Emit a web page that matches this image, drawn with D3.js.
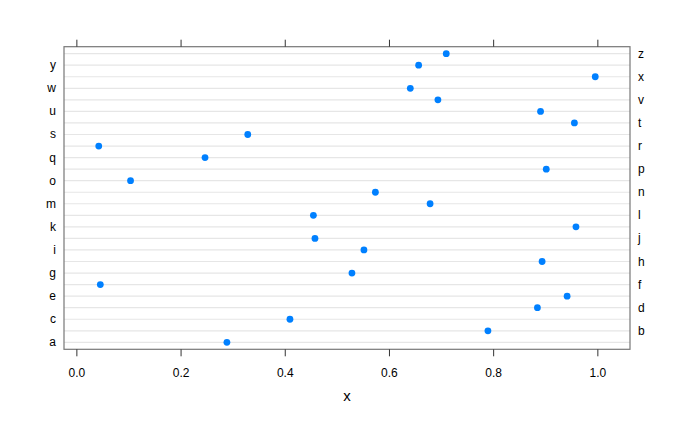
<!DOCTYPE html>
<meta charset="utf-8">
<style>
body { margin: 0; background: #fff; }
text { font-family: "Liberation Sans", Arial, sans-serif; fill: #000; }
.grid { stroke: #e6e6e6; stroke-width: 1.2px; }
.frame { fill: none; stroke: #777; stroke-width: 1.2px; }
.tick { stroke: #333; stroke-width: 1px; }
</style>
<svg width="694" height="425"></svg>
<script src="https://cdn.jsdelivr.net/npm/d3@7"></script>
<script>

// categories a..z and their x values
var categories = ["a","b","c","d","e","f","g","h","i","j","k","l","m",
                  "n","o","p","q","r","s","t","u","v","w","x","y","z"];
var values = [0.288, 0.789, 0.409, 0.884, 0.941, 0.045, 0.528, 0.893, 0.551, 0.457, 0.958, 0.454, 0.678,
              0.573, 0.103, 0.901, 0.246, 0.042, 0.328, 0.955, 0.890, 0.693, 0.640, 0.995, 0.656, 0.709];
var xTicks = [0, 0.2, 0.4, 0.6, 0.8, 1.0];

var svg = d3.select("svg"),
    pLeft = 64, pRight = 630, pTop = 46.7, pBottom = 349.3;

// lattice style padding of 7% on the range
var ext = d3.extent(values), pad = (ext[1] - ext[0]) * 0.07;
var x = d3.scaleLinear()
    .domain([ext[0] - pad, ext[1] + pad])
    .range([pLeft, pRight]);

var y = d3.scaleLinear()
    .domain([0.4, categories.length + 0.6])
    .range([pBottom, pTop]);

// grid lines
svg.selectAll("line.grid")
  .data(categories)
  .enter().append("line")
    .attr("class", "grid")
    .attr("x1", pLeft).attr("x2", pRight)
    .attr("y1", function(d, i) { return y(i + 1); })
    .attr("y2", function(d, i) { return y(i + 1); });

// points
svg.selectAll("circle")
  .data(values)
  .enter().append("circle")
    .attr("cx", function(d) { return x(d); })
    .attr("cy", function(d, i) { return y(i + 1); })
    .attr("r", 3.4)
    .style("fill", "#0080ff");

svg.append("rect")
    .attr("class", "frame")
    .attr("x", pLeft).attr("y", pTop)
    .attr("width", pRight - pLeft).attr("height", pBottom - pTop);

// x ticks top and bottom
xTicks.forEach(function(t) {
  svg.append("line").attr("class", "tick")
      .attr("x1", x(t)).attr("x2", x(t))
      .attr("y1", pBottom).attr("y2", pBottom + 7);
  svg.append("line").attr("class", "tick")
      .attr("x1", x(t)).attr("x2", x(t))
      .attr("y1", pTop).attr("y2", pTop - 7);
  svg.append("text")
      .attr("x", x(t)).attr("y", pBottom + 28)
      .attr("text-anchor", "middle")
      .style("font-size", "12px")
      .text(d3.format(".1f")(t));
});

// y labels, alternating left / right
svg.selectAll("text.ylab")
  .data(categories)
  .enter().append("text")
    .attr("class", "ylab")
    .attr("x", function(d, i) { return i % 2 == 0 ? pLeft - 8 : pRight + 8; })
    .attr("y", function(d, i) { return y(i + 1) + 4; })
    .attr("text-anchor", function(d, i) { return i % 2 == 0 ? "end" : "start"; })
    .style("font-size", "12px")
    .text(function(d) { return d; });

svg.append("text")
    .attr("x", (pLeft + pRight) / 2).attr("y", 401)
    .attr("text-anchor", "middle")
    .style("font-size", "15px")
    .text("x");

</script>
